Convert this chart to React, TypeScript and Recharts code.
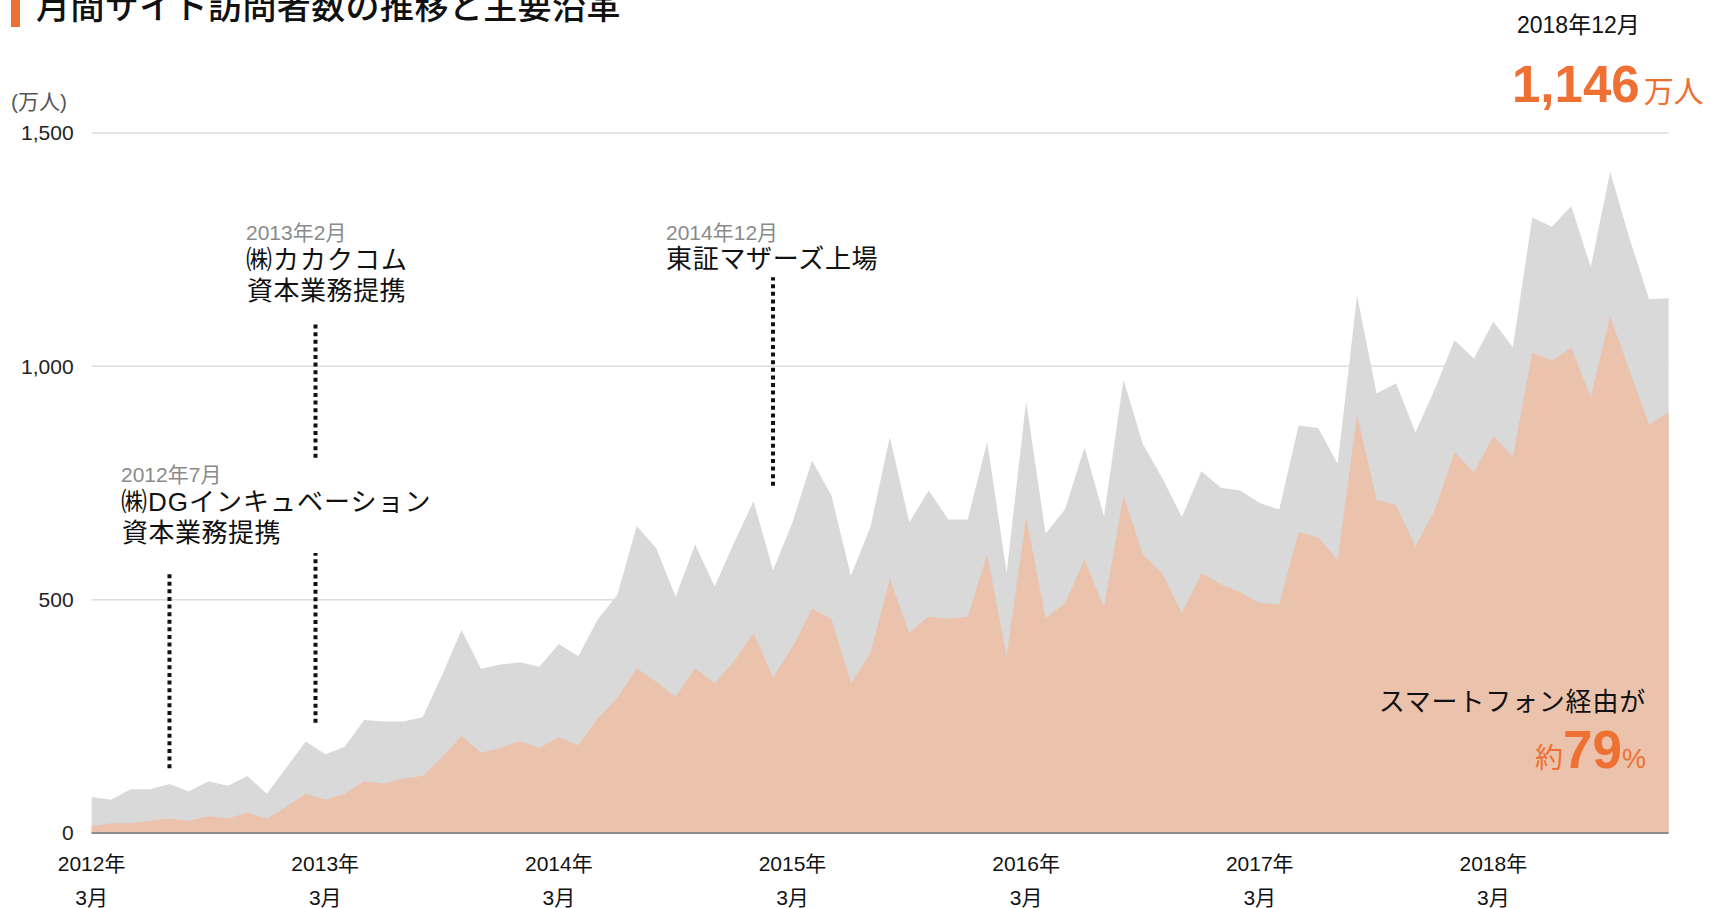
import { Area, AreaChart, CartesianGrid, ReferenceLine, XAxis, YAxis } from 'recharts'

// monthly visitors (万人), 2012/3 .. 2018/12
const totalVisitors = [
  77, 71, 94, 94, 105, 89, 111, 101, 122, 84, 140, 196, 169, 185, 242, 239, 239, 248, 338, 435,
  352, 361, 366, 356, 405, 379, 458, 510, 658, 610, 506, 618, 528, 622, 711, 563, 666, 798, 723, 551,
  655, 848, 666, 734, 672, 672, 838, 558, 925, 642, 694, 826, 679, 971, 833, 760, 677, 775, 740, 734,
  707, 693, 873, 868, 791, 1151, 942, 964, 858, 952, 1056, 1017, 1096, 1041, 1319, 1299, 1343, 1213, 1417, 1273,
  1144, 1146,
]

const smartphoneVisitors = [
  15, 21, 21, 26, 31, 26, 36, 31, 44, 31, 56, 84, 71, 84, 111, 106, 117, 122, 162, 208,
  172, 182, 197, 182, 205, 188, 246, 289, 353, 324, 292, 353, 321, 368, 428, 333, 398, 481, 459, 321,
  385, 545, 429, 464, 459, 464, 597, 379, 677, 460, 493, 586, 484, 723, 597, 556, 471, 556, 533, 516,
  493, 490, 645, 634, 585, 895, 714, 703, 614, 693, 816, 773, 851, 806, 1029, 1012, 1040, 935, 1107, 990,
  875, 902,
]

const xTicks = [0, 12, 24, 36, 48, 60, 72]
const yearLabels = ['2012年', '2013年', '2014年', '2015年', '2016年', '2017年', '2018年']
const monthLabel = '3月'
const yTicks = [0, 500, 1000, 1500]

const milestoneDates = ['2012年7月', '2013年2月', '2014年12月']
const milestoneTexts = [
  ['㈱DGインキュベーション', '資本業務提携'],
  ['㈱カカクコム', '資本業務提携'],
  ['東証マザーズ上場'],
]

const chartData = totalVisitors.map((total, idx) => ({
  idx,
  total,
  smartphone: smartphoneVisitors[idx],
}))

const ORANGE = '#ee7033'
const FONT = "'Liberation Sans', 'Noto Sans CJK JP', sans-serif"

const YearTick = ({ x, y, payload }: any) => {
  const label = yearLabels[xTicks.indexOf(payload.value)]
  return (
    <g>
      <text x={x} y={y + 38} textAnchor="middle" fontSize={21} fill="#111">
        {label}
      </text>
      <text x={x} y={y + 72} textAnchor="middle" fontSize={21} fill="#111">
        {monthLabel}
      </text>
    </g>
  )
}

const dotted = { stroke: '#111', strokeWidth: 4, strokeDasharray: '4 3.6' }

function App() {
  return (
    <div
      style={{
        position: 'absolute',
        left: 0,
        top: 0,
        width: 1710,
        height: 908,
        overflow: 'hidden',
        background: '#fff',
        fontFamily: FONT,
      }}
    >
      <AreaChart
        width={1710}
        height={908}
        data={chartData}
        margin={{ top: 133, right: 41.4, left: 0, bottom: 5 }}
      >
        <CartesianGrid vertical={false} stroke="#dcdcdc" strokeWidth={1.5} />
        <XAxis
          type="number"
          dataKey="idx"
          domain={[0, totalVisitors.length - 1]}
          ticks={xTicks}
          tick={<YearTick />}
          tickLine={false}
          tickSize={0}
          tickMargin={0}
          height={70}
          axisLine={{ stroke: '#8c8c8c', strokeWidth: 2 }}
        />
        <YAxis
          domain={[0, 1500]}
          ticks={yTicks}
          tickFormatter={(v: number) => v.toLocaleString('en-US')}
          width={91.6}
          tickSize={0}
          tickMargin={18}
          axisLine={false}
          tickLine={false}
          tick={{ fontSize: 21, fill: '#222' }}
        />
        <Area
          type="linear"
          dataKey="total"
          stroke="none"
          fill="#d9d9d9"
          fillOpacity={1}
          dot={false}
          activeDot={false}
          isAnimationActive={false}
        />
        <Area
          type="linear"
          dataKey="smartphone"
          stroke="none"
          fill="#ebc2ac"
          fillOpacity={1}
          dot={false}
          activeDot={false}
          isAnimationActive={false}
        />
        <ReferenceLine segment={[{ x: 4, y: 139 }, { x: 4, y: 555 }]} {...dotted} />
        <ReferenceLine segment={[{ x: 11.5, y: 236 }, { x: 11.5, y: 600 }]} {...dotted} />
        <ReferenceLine segment={[{ x: 11.5, y: 804 }, { x: 11.5, y: 1096 }]} {...dotted} />
        <ReferenceLine segment={[{ x: 35, y: 744 }, { x: 35, y: 1191 }]} {...dotted} />
      </AreaChart>

      <svg
        width={1710}
        height={908}
        style={{ position: 'absolute', left: 0, top: 0, pointerEvents: 'none' }}
        fontFamily={FONT}
      >
        <rect x={11} y={0} width={9} height={27} fill={ORANGE} />
        <text x={36} y={19} fontSize={34} fill="#111" fontWeight={500} letterSpacing={0.4}>
          月間サイト訪問者数の推移と主要沿革
        </text>

        <text x={11} y={109} fontSize={21} fill="#555">
          (万人)
        </text>

        <text x={1517} y={33} fontSize={23} fill="#111">
          2018年12月
        </text>
        <text x={1512} y={102} fill={ORANGE}>
          <tspan fontSize={51} fontWeight="bold">1,146</tspan>
          <tspan fontSize={30} dx={4}>万人</tspan>
        </text>

        <text x={121} y={482} fontSize={21} fill="#8a8a8a">
          {milestoneDates[0]}
        </text>
        <text x={121} y={511} fontSize={26} fill="#111" letterSpacing={1}>
          {milestoneTexts[0][0]}
        </text>
        <text x={122} y={542} fontSize={26} fill="#111" letterSpacing={0.5}>
          {milestoneTexts[0][1]}
        </text>

        <text x={246} y={240} fontSize={21} fill="#8a8a8a">
          {milestoneDates[1]}
        </text>
        <text x={246} y={269} fontSize={26} fill="#111" letterSpacing={1}>
          {milestoneTexts[1][0]}
        </text>
        <text x={247} y={300} fontSize={26} fill="#111" letterSpacing={0.5}>
          {milestoneTexts[1][1]}
        </text>

        <text x={666} y={240} fontSize={21} fill="#8a8a8a">
          {milestoneDates[2]}
        </text>
        <text x={666} y={268} fontSize={26} fill="#111" letterSpacing={0.7}>
          {milestoneTexts[2][0]}
        </text>

        <text x={1646} y={711} fontSize={26} fill="#111" textAnchor="end" letterSpacing={0.8}>
          スマートフォン経由が
        </text>
        <text x={1646} y={768} fill={ORANGE} textAnchor="end">
          <tspan fontSize={28}>約</tspan>
          <tspan fontSize={53} fontWeight="bold">79</tspan>
          <tspan fontSize={27}>%</tspan>
        </text>
      </svg>
    </div>
  )
}

export default App
